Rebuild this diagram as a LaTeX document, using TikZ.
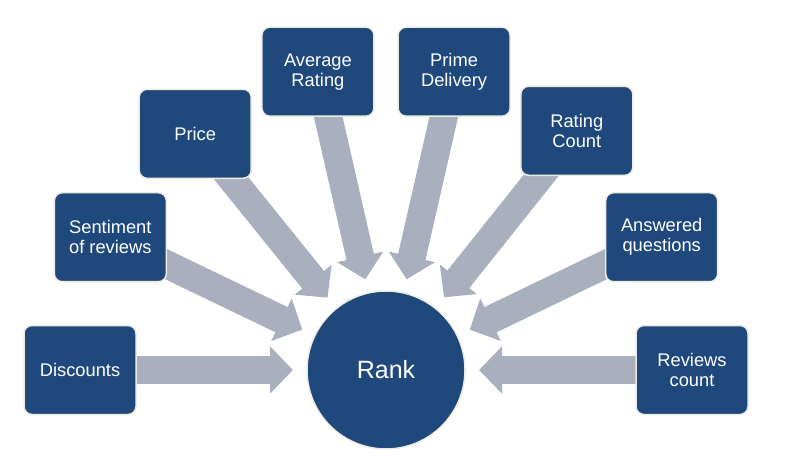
\documentclass[tikz,border=0pt]{standalone}
\usepackage{fontspec}
\setmainfont{Liberation Sans}
\usetikzlibrary{arrows.meta,calc}
\definecolor{boxblue}{HTML}{1F497D}
\definecolor{arrowgray}{HTML}{A9AFBD}
\definecolor{cream}{HTML}{EEECE1}
\pgfdeclarelayer{bg}
\pgfsetlayers{bg,main}
\tikzset{
  factor/.style={rectangle, rounded corners=8pt, fill=boxblue, draw=cream, line width=1.5pt,
    minimum width=112pt, minimum height=89pt, inner sep=0pt, align=center, text=white,
    font=\fontsize{18.3}{20}\selectfont},
  rankstyle/.style={circle, fill=boxblue, draw=cream, line width=1.5pt, minimum size=158pt,
    inner sep=0pt, text=white, font=\fontsize{25}{28}\selectfont},
  blockarrow/.style={draw=arrowgray, line width=28pt, line cap=butt,
    -{Triangle[length=23pt,width=46pt,fill=arrowgray]}}
}
\begin{document}
\begin{tikzpicture}[x=1pt,y=1pt]
\useasboundingbox (0,0) rectangle (786,474);
\coordinate (C) at (386,104);
\node[rankstyle] (rank) at (C) {Rank};
\node[factor] (disc) at ($(C)+(180:306)$) {Discounts};
\node[factor] (sent) at ($(C)+(154.2857:306)$) {Sentiment\\of reviews};
\node[factor] (price) at ($(C)+(128.5714:306)+(0,-3)$) {Price};
\node[factor] (avg) at ($(C)+(102.8571:306)$) {Average\\Rating};
\node[factor] (prime) at ($(C)+(77.1429:306)$) {Prime\\Delivery};
\node[factor] (rcount) at ($(C)+(51.4286:306)$) {Rating\\Count};
\node[factor] (answ) at ($(C)+(25.7143:306)$) {Answered\\questions};
\node[factor] (revc) at ($(C)+(0:306)$) {Reviews\\count};
\begin{pgfonlayer}{bg}
\foreach \b in {disc,sent,price,avg,prime,rcount,answ,revc}{
  \draw[blockarrow] (\b.center) -- ($(C)!93pt!(\b.center)$);
}
\end{pgfonlayer}
\end{tikzpicture}
\end{document}
